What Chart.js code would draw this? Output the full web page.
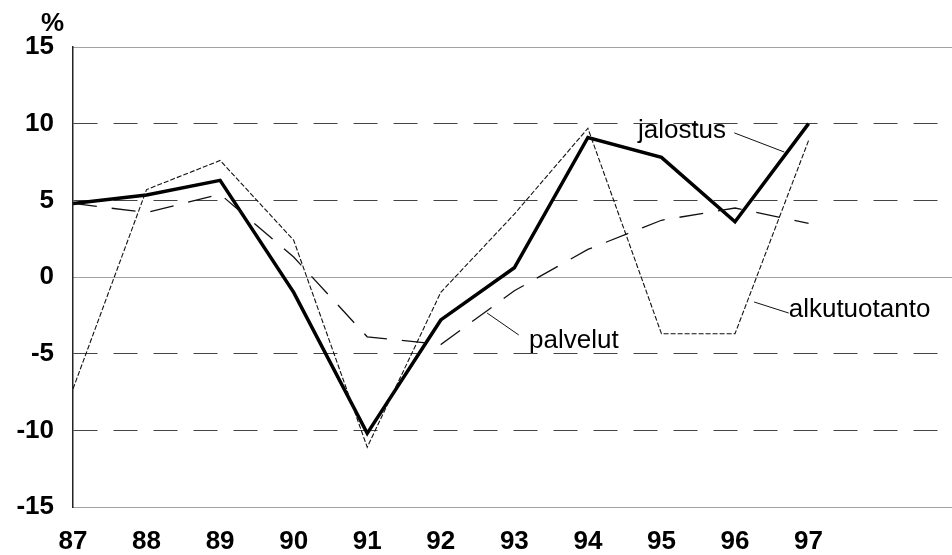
<!DOCTYPE html>
<html>
<head>
<meta charset="utf-8">
<script src="https://cdn.jsdelivr.net/npm/chart.js@4"></script>
<style>
  body { margin: 0; background: #fff; }
  #wrap { width: 952px; height: 555px; position: relative; }
</style>
</head>
<body>
<div id="wrap"><canvas id="chart"></canvas></div>
<script>
// vuodet (x) ja sarjat, luettu kuvasta
const years = [87, 88, 89, 90, 91, 92, 93, 94, 95, 96, 97];
const jalostus = [4.8, 5.35, 6.3, -1.0, -10.2, -2.8, 0.6, 9.1, 7.8, 3.6, 10.0];
const alkutuotanto = [-7.3, 5.7, 7.6, 2.4, -11.1, -1.0, 4.1, 9.7, -3.7, -3.7, 8.9];
const palvelut = [4.8, 4.2, 5.4, 1.3, -3.9, -4.4, -0.9, 1.8, 3.7, 4.5, 3.5];
const yTicks = [-15, -10, -5, 0, 5, 10, 15];

const toPoints = (values) => years.map((x, i) => ({ x: x, y: values[i] }));

// series labels drawn inside the plot, with short leader lines
const labelPlugin = {
    id: 'seriesLabels',
    afterDatasetsDraw(chart) {
        const ctx = chart.ctx;
        const xs = chart.scales.x;
        const ys = chart.scales.y;
        const px = (v) => xs.getPixelForValue(v);
        const py = (v) => ys.getPixelForValue(v);
        const notes = [
            { text: 'jalostus', at: [94.68, 9.07], line: [[95.99, 9.4], [96.67, 8.15]] },
            { text: 'palvelut', at: [93.2, -4.63], line: [[93.06, -3.78], [92.63, -2.35]] },
            { text: 'alkutuotanto', at: [96.73, -2.6], line: [[96.73, -2.35], [96.26, -1.63]] }
        ];
        ctx.save();
        ctx.fillStyle = '#000';
        ctx.font = '26px "Liberation Sans", Arial, sans-serif';
        ctx.textBaseline = 'alphabetic';
        ctx.textAlign = 'left';
        ctx.strokeStyle = '#111';
        ctx.lineWidth = 1;
        notes.forEach(n => {
            ctx.fillText(n.text, px(n.at[0]), py(n.at[1]));
            ctx.beginPath();
            ctx.moveTo(px(n.line[0][0]), py(n.line[0][1]));
            ctx.lineTo(px(n.line[1][0]), py(n.line[1][1]));
            ctx.stroke();
        });
        // % unit above the y axis
        ctx.font = 'bold 26px "Liberation Sans", Arial, sans-serif';
        ctx.fillText('%', 41, 31);
        ctx.restore();
    }
};

const ctx = document.getElementById('chart');

new Chart(ctx, {
    type: 'line',
    data: {
        datasets: [
            {
                label: 'alkutuotanto',
                data: toPoints(alkutuotanto),
                borderColor: '#111',
                borderWidth: 1.1,
                borderDash: [5, 2],
                pointRadius: 0,
                tension: 0
            },
            {
                label: 'palvelut',
                data: toPoints(palvelut),
                borderColor: '#111',
                borderWidth: 1.3,
                borderDash: [24, 15],
                pointRadius: 0,
                tension: 0
            },
            {
                label: 'jalostus',
                data: toPoints(jalostus),
                borderColor: '#000',
                borderWidth: 3.5,
                pointRadius: 0,
                tension: 0
            }
        ]
    },
    options: {
        responsive: true,
        maintainAspectRatio: false,
        animation: false,
        layout: {
            padding: { top: 47, left: 0, right: 0, bottom: 0 }
        },
        plugins: {
            legend: { display: false },
            tooltip: { enabled: false },
            title: { display: false }
        },
        scales: {
            x: {
                type: 'linear',
                min: 87,
                max: 98.95,
                grid: { display: false, drawTicks: false },
                border: { display: false },
                ticks: {
                    stepSize: 1,
                    autoSkip: false,
                    maxRotation: 0,
                    padding: 19,
                    color: '#000',
                    font: { family: '"Liberation Sans", Arial, sans-serif', size: 26, weight: 'bold' },
                    callback: (v) => (Number.isInteger(v) && years.includes(v)) ? String(v) : ''
                },
                afterFit: (scale) => {
                    scale.height = 48;
                    scale.paddingLeft = 0;
                    scale.paddingRight = 0;
                }
            },
            y: {
                min: yTicks[0],
                max: yTicks[yTicks.length - 1],
                afterBuildTicks: (scale) => { scale.ticks = yTicks.map(v => ({ value: v })); },
                grid: {
                    color: '#444',
                    lineWidth: 1,
                    drawTicks: false
                },
                border: {
                    display: true,
                    color: '#222',
                    width: 1.5,
                    dash: (c) => {
                        if (!c.tick) return [];
                        return (c.tick.value % 15 === 0) ? [1, 1] : [24, 16];
                    }
                },
                ticks: {
                    padding: 19,
                    color: '#000',
                    font: { family: '"Liberation Sans", Arial, sans-serif', size: 26, weight: 'bold' }
                },
                afterFit: (scale) => { scale.width = 73; }
            }
        }
    },
    plugins: [labelPlugin]
});
</script>
</body>
</html>
